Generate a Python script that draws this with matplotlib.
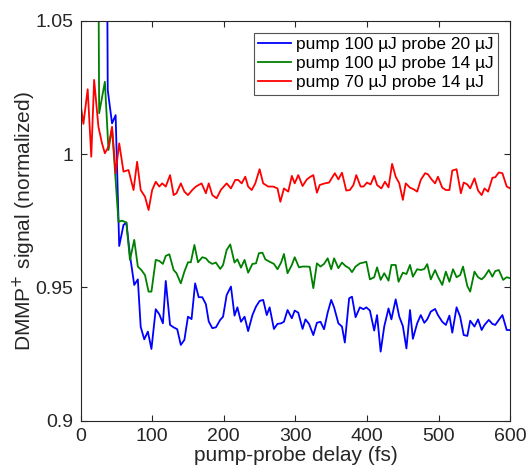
import matplotlib
matplotlib.use("Agg")
import matplotlib.pyplot as plt

# pump 100 uJ, probe 20 uJ (blue)
t_blue = [0, 5, 10, 15, 20, 25, 33, 38, 44, 49, 54, 60, 64, 69, 75, 80, 84, 89, 94, 99,
          105, 110, 115, 119, 125, 130, 135, 140, 145, 150, 155, 160, 165, 170, 175, 179,
          184, 189, 195, 199, 204, 210, 215, 219, 224, 229, 234, 240, 245, 250, 255, 260,
          264, 270, 275, 280, 284, 289, 295, 299, 304, 310, 314, 319, 325, 330, 335, 340,
          345, 350, 354, 360, 365, 369, 375, 379, 384, 390, 395, 399, 404, 410, 414, 419,
          424, 430, 434, 440, 445, 450, 455, 460, 464, 470, 475, 480, 484, 489, 495, 499,
          505, 510, 515, 519, 525, 530, 535, 540, 544, 550, 555, 560, 564, 570, 575, 579,
          584, 589, 595, 600]
v_blue = [1.30, 1.30, 1.32, 1.30, 1.28, 1.27, 1.30, 1.024, 1.0115, 1.0146, 0.9655, 0.9734,
          0.9743, 0.9621, 0.9509, 0.953, 0.9352, 0.9305, 0.9334, 0.9269, 0.9418, 0.9399,
          0.9365, 0.9524, 0.9359, 0.935, 0.9343, 0.9284, 0.9303, 0.939, 0.9381, 0.9515,
          0.9463, 0.9463, 0.9437, 0.9372, 0.9347, 0.935, 0.9378, 0.939, 0.9471, 0.9503,
          0.9394, 0.9425, 0.9371, 0.939, 0.9336, 0.9396, 0.9428, 0.9449, 0.9453, 0.9396,
          0.9425, 0.9344, 0.9363, 0.9365, 0.9371, 0.9415, 0.9384, 0.9413, 0.9405, 0.9344,
          0.938, 0.9363, 0.9321, 0.9367, 0.9371, 0.9343, 0.9405, 0.9453, 0.9425, 0.9365,
          0.9353, 0.9293, 0.9459, 0.9465, 0.9388, 0.9425, 0.9418, 0.9425, 0.9413, 0.9338,
          0.9396, 0.9259, 0.9353, 0.9421, 0.938, 0.9455, 0.939, 0.9355, 0.9271, 0.9415,
          0.9307, 0.9365, 0.9396, 0.9367, 0.938, 0.9409, 0.9419, 0.9396, 0.9371, 0.9359,
          0.9394, 0.933, 0.9425, 0.939, 0.9321, 0.9318, 0.9375, 0.9353, 0.938, 0.934,
          0.9359, 0.9378, 0.9363, 0.9359, 0.9378, 0.9396, 0.934, 0.934]

# pump 100 uJ, probe 14 uJ (green)
t_green = [0, 5, 10, 15, 21, 26, 34, 39, 44, 53, 58, 64, 69, 75, 80, 85, 90, 95, 99, 105,
           110, 115, 119, 124, 130, 134, 140, 145, 150, 154, 159, 164, 170, 175, 179, 184,
           189, 195, 199, 204, 209, 215, 219, 224, 229, 234, 240, 245, 249, 254, 258, 264,
           270, 275, 280, 284, 289, 295, 299, 305, 310, 316, 320, 325, 330, 335, 340, 345,
           350, 354, 360, 365, 370, 375, 379, 384, 390, 395, 399, 404, 410, 414, 419, 424,
           430, 434, 440, 444, 450, 455, 460, 464, 470, 475, 480, 484, 489, 495, 499, 505,
           510, 515, 520, 525, 530, 534, 540, 544, 550, 555, 560, 564, 570, 575, 579, 584,
           590, 595, 600]
v_green = [1.25, 1.27, 1.30, 1.30, 1.30, 1.0153, 1.0271, 1.0015, 1.0097, 0.9746, 0.975,
           0.9743, 0.9603, 0.9678, 0.9578, 0.9565, 0.9546, 0.9484, 0.9484, 0.9603, 0.9599,
           0.9588, 0.9618, 0.9624, 0.9565, 0.9553, 0.9515, 0.9559, 0.9594, 0.9594, 0.9659,
           0.9594, 0.9613, 0.9609, 0.9596, 0.9588, 0.9593, 0.9569, 0.9584, 0.964, 0.9661,
           0.9593, 0.9605, 0.9574, 0.9603, 0.9555, 0.9588, 0.959, 0.9628, 0.963, 0.9605,
           0.9596, 0.9588, 0.9568, 0.9593, 0.9625, 0.9553, 0.9584, 0.9613, 0.9575, 0.9578,
           0.9578, 0.9577, 0.9497, 0.959, 0.9578, 0.9588, 0.9609, 0.9568, 0.9609, 0.9572,
           0.9593, 0.958, 0.9572, 0.9557, 0.9578, 0.959, 0.9593, 0.9596, 0.953, 0.9538,
           0.9575, 0.9528, 0.9553, 0.9525, 0.9584, 0.9584, 0.9521, 0.9555, 0.955, 0.9584,
           0.954, 0.9568, 0.9565, 0.9569, 0.9587, 0.953, 0.9565, 0.954, 0.9509, 0.9559,
           0.9521, 0.9568, 0.9538, 0.9546, 0.9578, 0.9505, 0.9484, 0.9559, 0.9538, 0.953,
           0.954, 0.9565, 0.954, 0.9561, 0.9565, 0.9528, 0.9538, 0.9534]

# pump 70 uJ, probe 14 uJ (red)
t_red = [0, 4, 10, 15, 19, 25, 30, 34, 39, 44, 49, 54, 60, 67, 74, 79, 84, 90, 95, 100,
         105, 110, 114, 119, 125, 130, 134, 140, 145, 150, 156, 161, 169, 175, 179, 184,
         190, 196, 204, 210, 216, 220, 225, 230, 234, 239, 244, 250, 255, 262, 269, 275,
         279, 284, 290, 295, 299, 304, 310, 316, 320, 325, 330, 334, 341, 347, 355, 360,
         365, 371, 376, 381, 385, 391, 395, 400, 405, 410, 414, 420, 425, 430, 435, 440,
         445, 450, 454, 460, 465, 470, 475, 481, 485, 490, 495, 499, 505, 510, 515, 519,
         525, 531, 535, 540, 544, 550, 555, 560, 564, 569, 575, 579, 584, 589, 595, 600]
v_red = [1.019, 1.0113, 1.0243, 0.999, 1.0278, 1.0102, 1.004, 1.0003, 1.0027, 1.0102,
         0.9928, 1.004, 0.9934, 0.994, 0.9865, 0.9971, 0.9865, 0.984, 0.979, 0.9865,
         0.9896, 0.9878, 0.989, 0.9878, 0.9921, 0.9846, 0.9853, 0.989, 0.9859, 0.9846,
         0.9865, 0.9878, 0.989, 0.9853, 0.989, 0.9846, 0.9834, 0.9866, 0.989, 0.9871,
         0.9903, 0.9903, 0.989, 0.9915, 0.9878, 0.9865, 0.989, 0.9943, 0.989, 0.9878,
         0.9878, 0.9871, 0.9821, 0.9871, 0.9859, 0.9918, 0.989, 0.9921, 0.988, 0.9905,
         0.9913, 0.9921, 0.9855, 0.9884, 0.989, 0.9893, 0.9928, 0.9905, 0.993, 0.9863,
         0.9865, 0.9884, 0.9921, 0.9878, 0.9878, 0.9893, 0.9886, 0.9918, 0.9884, 0.9871,
         0.9896, 0.9875, 0.9963, 0.9915, 0.989, 0.9828, 0.989, 0.9874, 0.9868, 0.9859,
         0.9903, 0.9928, 0.9924, 0.9905, 0.989, 0.9915, 0.9874, 0.9865, 0.9865, 0.9938,
         0.9943, 0.9853, 0.9893, 0.9886, 0.9871, 0.9909, 0.9863, 0.9846, 0.9871, 0.9859,
         0.9911, 0.9913, 0.9931, 0.9928, 0.9878, 0.9871]

labels = ["pump 100 µJ probe 20 µJ", "pump 100 µJ probe 14 µJ", "pump 70 µJ probe 14 µJ"]
x_ticks = [0, 100, 200, 300, 400, 500, 600]
y_ticks = [0.9, 0.95, 1.0, 1.05]
y_tick_labels = ["0.9", "0.95", "1", "1.05"]


def main():
    plt.rcParams["font.family"] = ["Liberation Sans", "DejaVu Sans"]
    fig = plt.figure(figsize=(5.27, 4.74), dpi=100)
    ax = fig.add_axes([0.1528, 0.1125, 0.8155, 0.8438])

    ax.plot(t_blue, v_blue, color="#0000ff", lw=1.3, label=labels[0])
    ax.plot(t_green, v_green, color="#008000", lw=1.3, label=labels[1])
    ax.plot(t_red, v_red, color="#ff0000", lw=1.3, label=labels[2])

    ax.set_xlim(0, 600)
    ax.set_ylim(0.9, 1.05)
    ax.set_xticks(x_ticks)
    ax.set_yticks(y_ticks)
    ax.set_yticklabels(y_tick_labels)
    ax.tick_params(direction="in", top=True, right=True, length=4, width=0.8,
                   labelsize=14, colors="#262626", pad=5)
    for s in ax.spines.values():
        s.set_color("#262626")
        s.set_linewidth(0.8)

    ax.set_xlabel("pump-probe delay (fs)", fontsize=15, color="#262626", labelpad=1)
    ax.set_ylabel("DMMP$^{+}$ signal (normalized)", fontsize=15, color="#262626", labelpad=-2)

    leg = ax.legend(loc="upper right", fontsize=12.5, frameon=True, fancybox=False,
                    edgecolor="#262626", borderaxespad=0.7, handlelength=1.9,
                    handletextpad=0.3, labelspacing=0.22, borderpad=0.25)
    leg.get_frame().set_linewidth(0.8)

    fig.savefig("out.png", dpi=100)


if __name__ == "__main__":
    main()
